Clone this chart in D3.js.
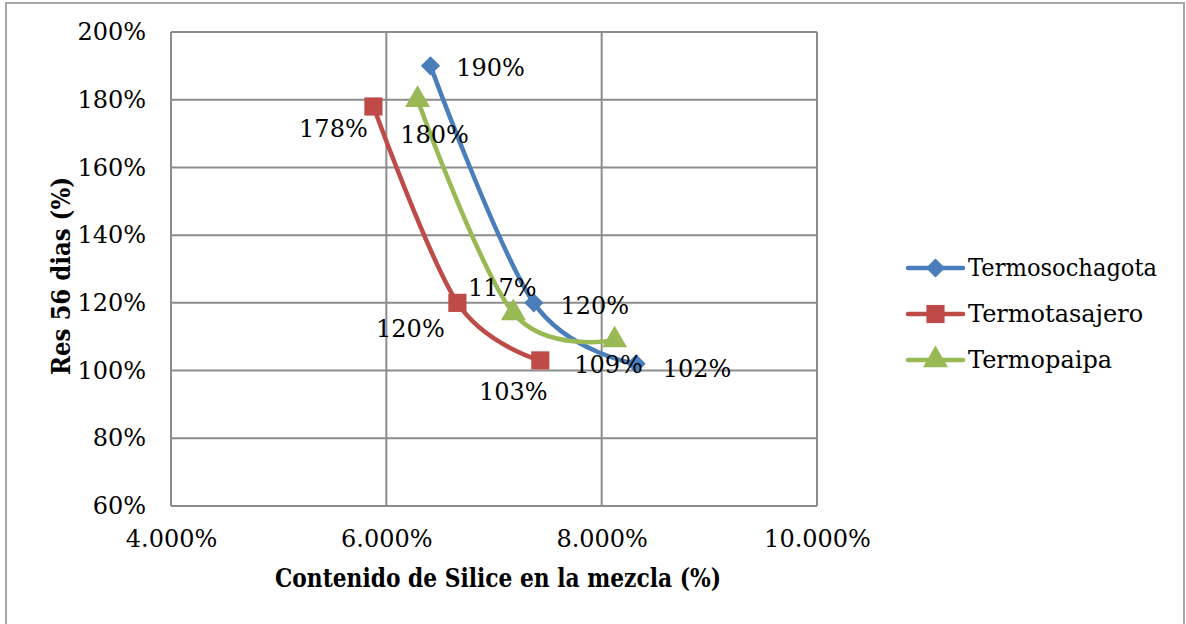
<!DOCTYPE html>
<html>
<head>
<meta charset="utf-8">
<script src="https://cdn.jsdelivr.net/npm/d3@7"></script>
<style>
  html, body { margin: 0; padding: 0; background: #fff; }
  svg { display: block; }
</style>
</head>
<body>
<svg id="chart" width="1186" height="624"></svg>
<script>
// Silica content in the mix (fraction) and 56-day strength ratio per plant
const seriesNames = ["Termosochagota", "Termotasajero", "Termopaipa"];
const sochagotaX = [0.0641, 0.0737, 0.0832];
const sochagotaY = [1.90, 1.20, 1.02];
const tasajeroX  = [0.0588, 0.0666, 0.0743];
const tasajeroY  = [1.78, 1.20, 1.03];
const paipaX     = [0.0629, 0.0718, 0.0812];
const paipaY     = [1.80, 1.17, 1.09];

const xTicks = [0.04, 0.06, 0.08, 0.10];
const yTicks = [0.6, 0.8, 1.0, 1.2, 1.4, 1.6, 1.8, 2.0];

const xTitle = "Contenido de Silice en la mezcla (%)";
const yTitle = "Res 56 dias (%)";

// Styling per series: square rotated 45° for the diamond marker
const colors = ["#4a7ebb", "#be4b48", "#98b954"];
const markers = [d3.symbolSquare, d3.symbolSquare, d3.symbolTriangle];
const markerRotations = [45, 0, 0];
const markerSizes = [185, 330, 270];
// Data label offsets (px) relative to each point
const labelOffsets = [
  [[60, 2], [61, 3], [61, 5]],
  [[-40, 23], [-47, 26], [-27, 32]],
  [[17, 35], [-11, -25], [-6, 25]]
];

const series = [
  { name: seriesNames[0], xs: sochagotaX, ys: sochagotaY },
  { name: seriesNames[1], xs: tasajeroX, ys: tasajeroY },
  { name: seriesNames[2], xs: paipaX, ys: paipaY }
].map((s, i) => ({
  ...s,
  color: colors[i],
  marker: markers[i],
  rot: markerRotations[i],
  markerSize: markerSizes[i],
  points: s.xs.map((x, j) => ({ x, y: s.ys[j], off: labelOffsets[i][j] }))
}));

const svg = d3.select("#chart");
const font = "'DejaVu Serif', serif";
const fs = 24;
const grid = "#8c8c8c";

// Outer chart frame
svg.append("rect")
  .attr("x", 6).attr("y", 3)
  .attr("width", 1178).attr("height", 640)
  .attr("fill", "#fff")
  .attr("stroke", "#a6a6a6").attr("stroke-width", 2);

const plot = { left: 171, top: 32, right: 817, bottom: 506 };

const x = d3.scaleLinear().domain([0.04, 0.10]).range([plot.left, plot.right]);
const y = d3.scaleLinear().domain([0.6, 2.0]).range([plot.bottom, plot.top]);

// Gridlines
const g = svg.append("g");
g.selectAll("line.hg").data(yTicks).join("line")
  .attr("x1", plot.left).attr("x2", plot.right)
  .attr("y1", d => y(d)).attr("y2", d => y(d))
  .attr("stroke", grid).attr("stroke-width", 2);
g.selectAll("line.vg").data(xTicks).join("line")
  .attr("x1", d => x(d)).attr("x2", d => x(d))
  .attr("y1", plot.top).attr("y2", plot.bottom)
  .attr("stroke", grid).attr("stroke-width", 2);

// Axes (labels only, lines drawn by the grid)
const yAxis = d3.axisLeft(y).tickValues(yTicks).tickFormat(d3.format(".0%")).tickSize(0).tickPadding(25);
const xAxis = d3.axisBottom(x).tickValues(xTicks).tickFormat(d3.format(".3%")).tickSize(0).tickPadding(24);

const ya = svg.append("g").attr("transform", `translate(${plot.left},0)`).call(yAxis);
const xa = svg.append("g").attr("transform", `translate(0,${plot.bottom})`).call(xAxis);
[ya, xa].forEach(a => {
  a.select(".domain").remove();
  a.selectAll("text").attr("font-family", font).attr("font-size", fs).attr("fill", "#000");
});

// Axis titles
svg.append("text")
  .attr("x", 498).attr("y", 587)
  .attr("text-anchor", "middle")
  .attr("font-family", font).attr("font-weight", "bold").attr("font-size", 26)
  .attr("textLength", 446).attr("lengthAdjust", "spacingAndGlyphs")
  .text(xTitle);

svg.append("text")
  .attr("transform", "translate(70,276) rotate(-90)")
  .attr("text-anchor", "middle")
  .attr("font-family", font).attr("font-weight", "bold").attr("font-size", 26)
  .attr("textLength", 198).attr("lengthAdjust", "spacingAndGlyphs")
  .text(yTitle);

// Smoothed series lines
const line = d3.line()
  .x(d => x(d.x)).y(d => y(d.y))
  .curve(d3.curveCardinal.tension(0));

const sg = svg.append("g").selectAll("g").data(series).join("g");
sg.append("path")
  .attr("d", d => line(d.points))
  .attr("fill", "none")
  .attr("stroke", d => d.color)
  .attr("stroke-width", 4.5)
  .attr("stroke-linejoin", "round");

sg.each(function (s) {
  d3.select(this).selectAll("path.m").data(s.points).join("path")
    .attr("class", "m")
    .attr("transform", d => `translate(${x(d.x)},${y(d.y)}) rotate(${s.rot})`)
    .attr("d", d3.symbol().type(s.marker).size(s.markerSize))
    .attr("fill", s.color);
});

// Data labels
const pct = d3.format(".0%");
sg.each(function (s) {
  d3.select(this).selectAll("text").data(s.points).join("text")
    .attr("x", d => x(d.x) + d.off[0])
    .attr("y", d => y(d.y) + d.off[1])
    .attr("text-anchor", "middle")
    .attr("dominant-baseline", "central")
    .attr("font-family", font).attr("font-size", fs)
    .attr("fill", "#000")
    .text(d => pct(d.y));
});

// Legend
const legend = svg.append("g").attr("transform", "translate(908,268)");
const li = legend.selectAll("g").data(series).join("g")
  .attr("transform", (d, i) => `translate(0,${i * 46})`);
li.append("line")
  .attr("x1", 0).attr("x2", 55)
  .attr("stroke", d => d.color).attr("stroke-width", 4.5).attr("stroke-linecap", "round");
li.append("path")
  .attr("transform", d => `translate(27.5,0) rotate(${d.rot})`)
  .attr("d", d => d3.symbol().type(d.marker).size(d.markerSize)())
  .attr("fill", d => d.color);
li.append("text")
  .attr("x", 60).attr("y", 0)
  .attr("dominant-baseline", "central")
  .attr("font-family", font).attr("font-size", fs)
  .attr("textLength", 189).attr("lengthAdjust", "spacingAndGlyphs")
  .text(d => d.name)
  .each(function (d) { if (d.name !== "Termosochagota") d3.select(this).attr("textLength", null).attr("lengthAdjust", null); });
</script>
</body>
</html>
